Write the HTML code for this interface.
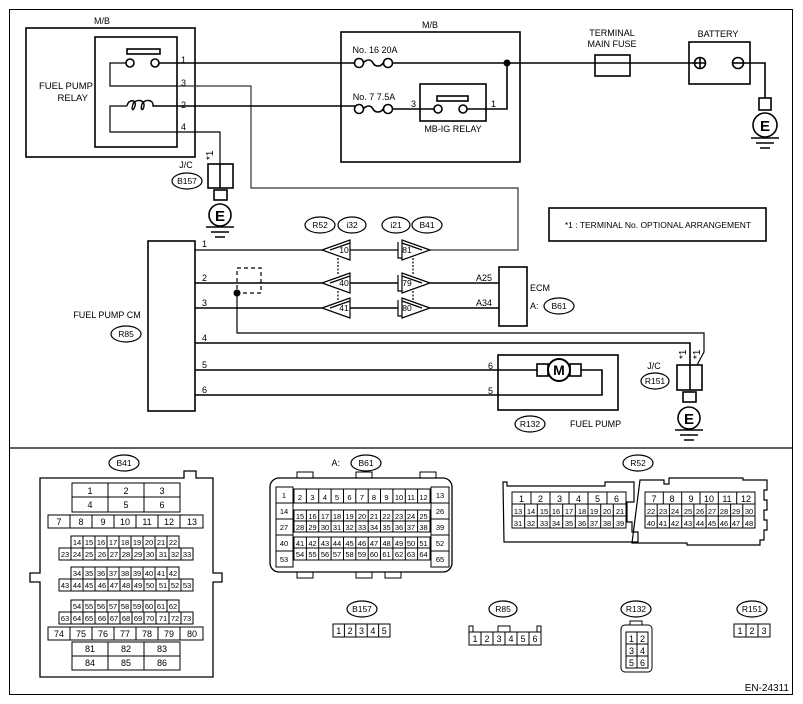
<!DOCTYPE html>
<html><head><meta charset="utf-8"><style>
html,body{margin:0;padding:0;background:#fff}
svg{display:block}
text{font-family:"Liberation Sans",Arial,sans-serif;fill:#000}
</style></head><body>
<svg width="803" height="704" viewBox="0 0 803 704" xmlns="http://www.w3.org/2000/svg">
<g fill="none" stroke="#000" stroke-width="1.6">
<rect x="9.5" y="9.5" width="783" height="685" stroke-width="1"/>
<line x1="9" y1="448" x2="792" y2="448" stroke-width="1.2"/>
<!-- left M/B -->
<rect x="26" y="28" width="169" height="129"/>
<rect x="95" y="37" width="82" height="110"/>
<rect x="127" y="49" width="33" height="5"/>
<circle cx="130" cy="63" r="4"/><circle cx="155" cy="63" r="4"/>
<path d="M126 63H110V86H177" stroke-width="1.2"/>
<path d="M159 63H355"/>
<path d="M177 86H251V188H518V250H430" stroke-width="1.2" stroke="#333"/>
<path d="M127 106 C128 99 137 99 135 106 C133 112 131 110 133 104 C135 99 145 99 144 106 C143 112 140 110 142 104 C144 99 154 99 153 106 L160 106" stroke-width="1.4"/>
<path d="M160 106H355"/>
<path d="M127 106H110V132H220V164" stroke-width="1.2"/>
<rect x="208" y="164" width="25" height="24"/><line x1="220" y1="164" x2="220" y2="188"/>
<rect x="214" y="190" width="13" height="10"/>
<circle cx="220" cy="215" r="11"/>
<path d="M206 227H234M211 232H229M215 237H225"/>
<ellipse cx="187" cy="181" rx="15" ry="8" stroke-width="1.2"/>
<!-- right M/B -->
<rect x="341" y="32" width="179" height="130"/>
<circle cx="359" cy="63" r="4.5"/><circle cx="388" cy="63" r="4.5"/>
<path d="M363 63c4 -4 8 -4 10 0s8 4 10 0"/>
<path d="M392 63H697"/>
<circle cx="359" cy="109" r="4.5"/><circle cx="388" cy="109" r="4.5"/>
<path d="M363 109c4 -4 8 -4 10 0s8 4 10 0"/>
<path d="M392 109H434"/>
<rect x="420" y="84" width="66" height="37"/>
<rect x="437" y="96" width="31" height="5"/>
<circle cx="438" cy="109" r="4"/><circle cx="463" cy="109" r="4"/>
<path d="M467 109H507V63"/>
<rect x="595" y="55" width="35" height="21"/>
<rect x="689" y="42" width="61" height="42"/>
<circle cx="700" cy="63" r="5.5"/><path d="M694 63H706M700 57V69"/>
<circle cx="738" cy="63" r="5.5"/><path d="M732 63H744"/>
<path d="M743 63H765V98"/>
<rect x="759" y="98" width="12" height="12"/>
<circle cx="765" cy="125" r="12"/>
<path d="M751 138H779M756 143H774M760 148H770"/>
<rect x="549" y="208" width="217" height="33"/>
<!-- Fuel pump CM -->
<rect x="148" y="241" width="47" height="170"/>
<ellipse cx="126" cy="334" rx="15" ry="8" stroke-width="1.2"/>
<path d="M195 250H322M350 250H398" stroke-width="1.2"/>
<path d="M195 283H322M350 283H398M430 283H499"/>
<path d="M195 308H322M350 308H398M430 308H499"/>
<path d="M237 293V333H704V352L697 365" stroke-width="1.2"/>
<path d="M195 343H690V365"/>
<path d="M195 370H537M581 370H602V395H195"/>
<rect x="237" y="268" width="24" height="25" stroke-dasharray="4,3" stroke-width="1.2"/>
<path d="M338 258V275M338 291V300M413 258V275M413 291V300" stroke-dasharray="2,1.5" stroke-width="1.2"/>
<g stroke-width="1.2">
<path d="M322 250L350 240V260Z M330 250L350 243"/>
<path d="M322 283L350 273V293Z M330 283L350 276"/>
<path d="M322 308L350 298V318Z M330 308L350 301"/>
<path d="M430 250L402 240V260Z M422 250L402 243 M398 242V258H402"/>
<path d="M430 283L402 273V293Z M422 283L402 276 M398 275V291H402"/>
<path d="M430 308L402 298V318Z M422 308L402 301 M398 300V316H402"/>
</g>
<rect x="499" y="267" width="28" height="59"/>
<rect x="498" y="355" width="120" height="55"/>
<rect x="537" y="364" width="11" height="12"/><rect x="570" y="364" width="11" height="12"/>
<circle cx="559" cy="370" r="11" stroke-width="2"/>
<rect x="677" y="365" width="25" height="25"/><line x1="690" y1="365" x2="690" y2="390"/>
<rect x="683" y="392" width="13" height="10"/>
<circle cx="689" cy="418" r="11"/>
<path d="M675 430H703M680 435H698M684 440H694"/>
<g stroke-width="1.2">
<ellipse cx="320" cy="225" rx="15" ry="8"/><ellipse cx="352" cy="225" rx="14" ry="8"/>
<ellipse cx="396" cy="225" rx="14" ry="8"/><ellipse cx="427" cy="225" rx="15" ry="8"/>
<ellipse cx="559" cy="306" rx="15" ry="8"/>
<ellipse cx="655" cy="381" rx="14" ry="8"/>
<ellipse cx="530" cy="424" rx="15" ry="8"/>
<ellipse cx="124" cy="463" rx="15" ry="8"/>
<ellipse cx="366" cy="463" rx="15" ry="8"/>
<ellipse cx="638" cy="463" rx="15" ry="8"/>
<ellipse cx="362" cy="609" rx="15" ry="8"/>
<ellipse cx="503" cy="609" rx="14" ry="8"/>
<ellipse cx="636" cy="609" rx="15" ry="8"/>
<ellipse cx="752" cy="609" rx="15" ry="8"/>
</g>
</g>
<circle cx="507" cy="63" r="3.5"/>
<circle cx="237" cy="293" r="3.5"/>
<g font-size="9">
<text x="102" y="24" text-anchor="middle">M/B</text>
<text x="430" y="28" text-anchor="middle">M/B</text>
<text x="93" y="89" text-anchor="end" font-size="9.5">FUEL PUMP</text>
<text x="88" y="101" text-anchor="end" font-size="9.5">RELAY</text>
<text x="181" y="63">1</text><text x="181" y="86">3</text><text x="181" y="108">2</text><text x="181" y="130">4</text>
<text x="186" y="168" text-anchor="middle">J/C</text>
<text x="187" y="184" text-anchor="middle" font-size="8.5">B157</text>
<text x="375" y="53" text-anchor="middle">No. 16  20A</text>
<text x="374" y="100" text-anchor="middle">No. 7  7.5A</text>
<text x="411" y="107">3</text><text x="491" y="107">1</text>
<text x="453" y="132" text-anchor="middle">MB-IG RELAY</text>
<text x="612" y="36" text-anchor="middle">TERMINAL</text>
<text x="612" y="47" text-anchor="middle">MAIN FUSE</text>
<text x="718" y="37" text-anchor="middle">BATTERY</text>
<text x="658" y="228" text-anchor="middle" font-size="8.5">*1 : TERMINAL No. OPTIONAL ARRANGEMENT</text>
<text x="107" y="318" text-anchor="middle">FUEL PUMP CM</text>
<text x="126" y="337" text-anchor="middle" font-size="8.5">R85</text>
<text x="202" y="247">1</text><text x="202" y="281">2</text><text x="202" y="306">3</text>
<text x="202" y="341">4</text><text x="202" y="368">5</text><text x="202" y="393">6</text>
<text x="320" y="228" text-anchor="middle" font-size="8.5">R52</text>
<text x="352" y="228" text-anchor="middle" font-size="8.5">i32</text>
<text x="396" y="228" text-anchor="middle" font-size="8.5">i21</text>
<text x="427" y="228" text-anchor="middle" font-size="8.5">B41</text>
<g font-size="8.5" text-anchor="middle">
<text x="344" y="253">10</text><text x="344" y="286">40</text><text x="344" y="311">41</text>
<text x="407" y="253">81</text><text x="407" y="286">79</text><text x="407" y="311">80</text>
</g>
<text x="484" y="281" text-anchor="middle">A25</text><text x="484" y="306" text-anchor="middle">A34</text>
<text x="530" y="291">ECM</text>
<text x="530" y="309">A:</text>
<text x="559" y="309" text-anchor="middle" font-size="8.5">B61</text>
<text x="488" y="369">6</text><text x="488" y="394">5</text>
<text x="559" y="375" text-anchor="middle" font-size="14" font-weight="bold">M</text>
<text x="530" y="427" text-anchor="middle" font-size="8.5">R132</text>
<text x="570" y="427">FUEL PUMP</text>
<text x="654" y="369" text-anchor="middle">J/C</text>
<text x="655" y="384" text-anchor="middle" font-size="8.5">R151</text>
<text transform="translate(213,160) rotate(-90)" font-size="10">*1</text>
<text transform="translate(686,359) rotate(-90)" font-size="10">*1</text>
<text transform="translate(700,359) rotate(-90)" font-size="10">*1</text>
<text x="220" y="221" text-anchor="middle" font-size="15" font-weight="bold">E</text>
<text x="765" y="131" text-anchor="middle" font-size="15" font-weight="bold">E</text>
<text x="689" y="424" text-anchor="middle" font-size="15" font-weight="bold">E</text>
<text x="124" y="466" text-anchor="middle" font-size="8.5">B41</text>
<text x="340" y="466" text-anchor="end">A:</text>
<text x="366" y="466" text-anchor="middle" font-size="8.5">B61</text>
<text x="638" y="466" text-anchor="middle" font-size="8.5">R52</text>
<text x="362" y="612" text-anchor="middle" font-size="8.5">B157</text>
<text x="503" y="612" text-anchor="middle" font-size="8.5">R85</text>
<text x="636" y="612" text-anchor="middle" font-size="8.5">R132</text>
<text x="752" y="612" text-anchor="middle" font-size="8.5">R151</text>
<text x="789" y="691" text-anchor="end" font-size="10">EN-24311</text>
</g>
<g fill="none" stroke="#000" stroke-width="1">
<path d="M40 478H184V471H196V478H213V573H222V582H213V677H40V582H30V573H40Z" stroke-width="1.3"/>
<rect x="72" y="483" width="108" height="29"/><path d="M72 497H180M108 483V512M144 483V512"/>
<rect x="48" y="515" width="155" height="13"/><path d="M70 515v13M92 515v13M114 515v13M136 515v13M158 515v13M180 515v13"/>
<rect x="71" y="536" width="108" height="12"/><path d="M83 536v12M95 536v12M107 536v12M119 536v12M131 536v12M143 536v12M155 536v12M167 536v12"/>
<rect x="59" y="548" width="134" height="12"/><path d="M71 548v12M83 548v12M95 548v12M108 548v12M120 548v12M132 548v12M144 548v12M156 548v12M169 548v12M181 548v12"/>
<rect x="71" y="567" width="108" height="12"/><path d="M83 567v12M95 567v12M107 567v12M119 567v12M131 567v12M143 567v12M155 567v12M167 567v12"/>
<rect x="59" y="579" width="134" height="12"/><path d="M71 579v12M83 579v12M95 579v12M108 579v12M120 579v12M132 579v12M144 579v12M156 579v12M169 579v12M181 579v12"/>
<rect x="71" y="600" width="108" height="12"/><path d="M83 600v12M95 600v12M107 600v12M119 600v12M131 600v12M143 600v12M155 600v12M167 600v12"/>
<rect x="59" y="612" width="134" height="12"/><path d="M71 612v12M83 612v12M95 612v12M108 612v12M120 612v12M132 612v12M144 612v12M156 612v12M169 612v12M181 612v12"/>
<rect x="48" y="627" width="155" height="13"/><path d="M70 627v13M92 627v13M114 627v13M136 627v13M158 627v13M180 627v13"/>
<rect x="72" y="642" width="108" height="28"/><path d="M72 656H180M108 642V670M144 642V670"/>
<rect x="270" y="478" width="182" height="94" rx="9" stroke-width="1.3"/>
<path d="M297 478v-6h16v6M356 478v-6h16v6M420 478v-6h16v6M297 572v6h16v-6M356 572v6h16v-6M385 572v6h16v-6"/>
<rect x="276" y="487" width="17" height="80"/><path d="M276 503h17M276 519h17M276 535h17M276 551h17"/>
<rect x="431" y="487" width="18" height="80"/><path d="M431 503h18M431 519h18M431 535h18M431 551h18"/>
<rect x="294" y="489" width="136" height="14"/>
<rect x="294" y="510" width="136" height="22"/><path d="M294 521h136"/>
<rect x="294" y="537" width="136" height="23"/><path d="M294 548h136"/>
<path d="M306.4 489v14M318.7 489v14M331.1 489v14M343.5 489v14M355.8 489v14M368.2 489v14M380.5 489v14M392.9 489v14M405.3 489v14M417.6 489v14"/>
<path d="M306.4 510v22M318.7 510v22M331.1 510v22M343.5 510v22M355.8 510v22M368.2 510v22M380.5 510v22M392.9 510v22M405.3 510v22M417.6 510v22"/>
<path d="M306.4 537v23M318.7 537v23M331.1 537v23M343.5 537v23M355.8 537v23M368.2 537v23M380.5 537v23M392.9 537v23M405.3 537v23M417.6 537v23"/>
<path d="M503 482h4v4h98v-4h29v20h-7v20h5v10h6v10h-134z" stroke-width="1.2"/>
<path d="M640 480h24v4h5v-6h74v2h24v10h-3v10h3v10h-3v10h3v10h-3v10h-4v5h-73v-2h-55z" stroke-width="1.2"/>
<rect x="512" y="492" width="114" height="36"/><path d="M512 504h114M512 516h114"/>
<path d="M531 492v12M550 492v12M569 492v12M588 492v12M607 492v12"/>
<path d="M524.7 504v24M537.3 504v24M550 504v24M562.7 504v24M575.3 504v24M588 504v24M600.7 504v24M613.3 504v24"/>
<rect x="645" y="492" width="110" height="36"/><path d="M645 504h110M645 516h110"/>
<path d="M663.3 492v12M681.7 492v12M700 492v12M718.3 492v12M736.7 492v12"/>
<path d="M657.2 504v24M669.4 504v24M681.7 504v24M693.9 504v24M706.1 504v24M718.3 504v24M730.6 504v24M742.8 504v24"/>
<rect x="333" y="624" width="57" height="13"/><path d="M344.4 624v13M355.8 624v13M367.2 624v13M378.6 624v13"/>
<path d="M469 632v-6h4v6M498 632v-6h12v6M537 632v-6h4v6"/>
<rect x="469" y="632" width="72" height="13"/><path d="M481 632v13M493 632v13M505 632v13M517 632v13M529 632v13"/>
<path d="M630 625v-4h12v4"/>
<rect x="621" y="625" width="31" height="47" rx="4"/>
<rect x="626" y="632" width="22" height="36"/><path d="M626 644h22M626 656h22M637 632v36"/>
<rect x="734" y="624" width="36" height="13"/><path d="M746 624v13M758 624v13"/>
</g>
<g font-size="9" text-anchor="middle">
<text x="90" y="494">1</text><text x="126" y="494">2</text><text x="162" y="494">3</text>
<text x="90" y="508">4</text><text x="126" y="508">5</text><text x="162" y="508">6</text>
<text x="59" y="525">7</text><text x="81" y="525">8</text><text x="103" y="525">9</text><text x="125" y="525">10</text><text x="147" y="525">11</text><text x="169" y="525">12</text><text x="192" y="525">13</text>
<text x="90" y="652">81</text><text x="126" y="652">82</text><text x="162" y="652">83</text>
<text x="90" y="666">84</text><text x="126" y="666">85</text><text x="162" y="666">86</text>
<text x="59" y="637">74</text><text x="81" y="637">75</text><text x="103" y="637">76</text><text x="125" y="637">77</text><text x="147" y="637">78</text><text x="169" y="637">79</text><text x="192" y="637">80</text>
</g>
<g font-size="7.5" text-anchor="middle">
<text x="77" y="545">14</text><text x="89" y="545">15</text><text x="101" y="545">16</text><text x="113" y="545">17</text><text x="125" y="545">18</text><text x="137" y="545">19</text><text x="149" y="545">20</text><text x="161" y="545">21</text><text x="173" y="545">22</text>
<text x="65" y="557">23</text><text x="77" y="557">24</text><text x="89" y="557">25</text><text x="102" y="557">26</text><text x="114" y="557">27</text><text x="126" y="557">28</text><text x="138" y="557">29</text><text x="150" y="557">30</text><text x="163" y="557">31</text><text x="175" y="557">32</text><text x="187" y="557">33</text>
<text x="77" y="576">34</text><text x="89" y="576">35</text><text x="101" y="576">36</text><text x="113" y="576">37</text><text x="125" y="576">38</text><text x="137" y="576">39</text><text x="149" y="576">40</text><text x="161" y="576">41</text><text x="173" y="576">42</text>
<text x="65" y="588">43</text><text x="77" y="588">44</text><text x="89" y="588">45</text><text x="102" y="588">46</text><text x="114" y="588">47</text><text x="126" y="588">48</text><text x="138" y="588">49</text><text x="150" y="588">50</text><text x="163" y="588">51</text><text x="175" y="588">52</text><text x="187" y="588">53</text>
<text x="77" y="609">54</text><text x="89" y="609">55</text><text x="101" y="609">56</text><text x="113" y="609">57</text><text x="125" y="609">58</text><text x="137" y="609">59</text><text x="149" y="609">60</text><text x="161" y="609">61</text><text x="173" y="609">62</text>
<text x="65" y="621">63</text><text x="77" y="621">64</text><text x="89" y="621">65</text><text x="102" y="621">66</text><text x="114" y="621">67</text><text x="126" y="621">68</text><text x="138" y="621">69</text><text x="150" y="621">70</text><text x="163" y="621">71</text><text x="175" y="621">72</text><text x="187" y="621">73</text>
<text x="284" y="498">1</text><text x="284" y="514">14</text><text x="284" y="530">27</text><text x="284" y="546">40</text><text x="284" y="562">53</text>
<text x="440" y="498">13</text><text x="440" y="514">26</text><text x="440" y="530">39</text><text x="440" y="546">52</text><text x="440" y="562">65</text>
<text x="300" y="500">2</text><text x="312.5" y="500">3</text><text x="325" y="500">4</text><text x="337" y="500">5</text><text x="349.5" y="500">6</text><text x="362" y="500">7</text><text x="374" y="500">8</text><text x="386.5" y="500">9</text><text x="399" y="500">10</text><text x="411" y="500">11</text><text x="423.5" y="500">12</text>
<text x="300" y="519">15</text><text x="312.5" y="519">16</text><text x="325" y="519">17</text><text x="337" y="519">18</text><text x="349.5" y="519">19</text><text x="362" y="519">20</text><text x="374" y="519">21</text><text x="386.5" y="519">22</text><text x="399" y="519">23</text><text x="411" y="519">24</text><text x="423.5" y="519">25</text>
<text x="300" y="530">28</text><text x="312.5" y="530">29</text><text x="325" y="530">30</text><text x="337" y="530">31</text><text x="349.5" y="530">32</text><text x="362" y="530">33</text><text x="374" y="530">34</text><text x="386.5" y="530">35</text><text x="399" y="530">36</text><text x="411" y="530">37</text><text x="423.5" y="530">38</text>
<text x="300" y="546">41</text><text x="312.5" y="546">42</text><text x="325" y="546">43</text><text x="337" y="546">44</text><text x="349.5" y="546">45</text><text x="362" y="546">46</text><text x="374" y="546">47</text><text x="386.5" y="546">48</text><text x="399" y="546">49</text><text x="411" y="546">50</text><text x="423.5" y="546">51</text>
<text x="300" y="557">54</text><text x="312.5" y="557">55</text><text x="325" y="557">56</text><text x="337" y="557">57</text><text x="349.5" y="557">58</text><text x="362" y="557">59</text><text x="374" y="557">60</text><text x="386.5" y="557">61</text><text x="399" y="557">62</text><text x="411" y="557">63</text><text x="423.5" y="557">64</text>
<text x="521.5" y="502" font-size="9">1</text><text x="540.5" y="502" font-size="9">2</text><text x="559.5" y="502" font-size="9">3</text><text x="578.5" y="502" font-size="9">4</text><text x="597.5" y="502" font-size="9">5</text><text x="616.5" y="502" font-size="9">6</text>
<text x="518" y="514">13</text><text x="531" y="514">14</text><text x="544" y="514">15</text><text x="556" y="514">16</text><text x="569" y="514">17</text><text x="582" y="514">18</text><text x="594" y="514">19</text><text x="607" y="514">20</text><text x="620" y="514">21</text>
<text x="518" y="526">31</text><text x="531" y="526">32</text><text x="544" y="526">33</text><text x="556" y="526">34</text><text x="569" y="526">35</text><text x="582" y="526">36</text><text x="594" y="526">37</text><text x="607" y="526">38</text><text x="620" y="526">39</text>
<text x="654" y="502" font-size="9">7</text><text x="672" y="502" font-size="9">8</text><text x="691" y="502" font-size="9">9</text><text x="709" y="502" font-size="9">10</text><text x="727" y="502" font-size="9">11</text><text x="746" y="502" font-size="9">12</text>
<text x="651" y="514">22</text><text x="663" y="514">23</text><text x="675" y="514">24</text><text x="688" y="514">25</text><text x="700" y="514">26</text><text x="712" y="514">27</text><text x="724" y="514">28</text><text x="736" y="514">29</text><text x="749" y="514">30</text>
<text x="651" y="526">40</text><text x="663" y="526">41</text><text x="675" y="526">42</text><text x="688" y="526">43</text><text x="700" y="526">44</text><text x="712" y="526">45</text><text x="724" y="526">46</text><text x="736" y="526">47</text><text x="749" y="526">48</text>
</g>
<g font-size="9" text-anchor="middle">
<text x="338.7" y="634">1</text><text x="350.1" y="634">2</text><text x="361.5" y="634">3</text><text x="372.9" y="634">4</text><text x="384.3" y="634">5</text>
<text x="475" y="642">1</text><text x="487" y="642">2</text><text x="499" y="642">3</text><text x="511" y="642">4</text><text x="523" y="642">5</text><text x="535" y="642">6</text>
<text x="631.5" y="642">1</text><text x="642.5" y="642">2</text><text x="631.5" y="654">3</text><text x="642.5" y="654">4</text><text x="631.5" y="666">5</text><text x="642.5" y="666">6</text>
<text x="740" y="634">1</text><text x="752" y="634">2</text><text x="764" y="634">3</text>
</g>
</svg>
</body></html>
